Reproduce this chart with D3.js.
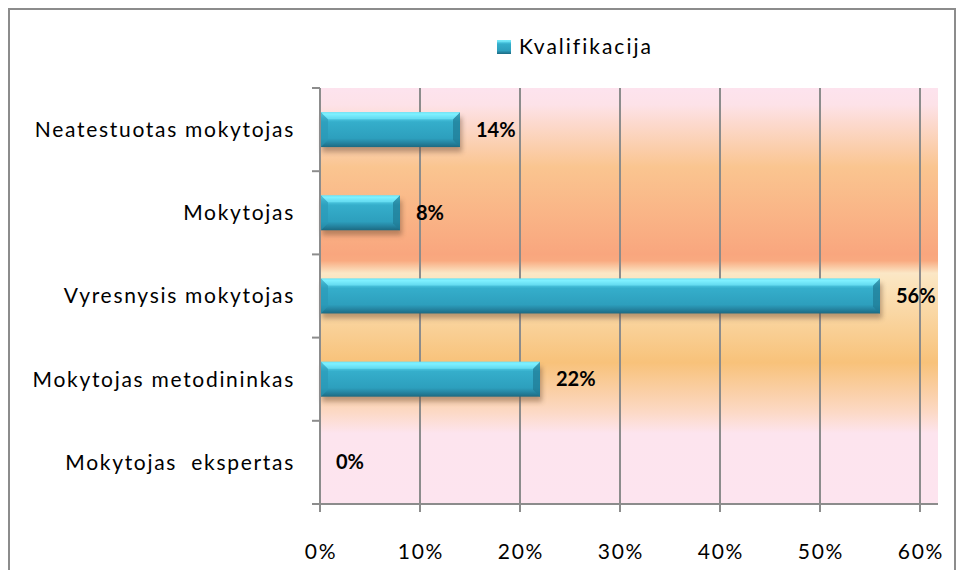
<!DOCTYPE html>
<html><head><meta charset="utf-8">
<script src="https://cdn.jsdelivr.net/npm/d3@7"></script>
<style>
html,body{margin:0;padding:0;background:#fff;}
svg{display:block;}
text{font-family:Lato,"Open Sans",sans-serif;}
</style></head><body>
<svg id="c" width="964" height="570"></svg>
<script>
const categories = ["Neatestuotas mokytojas","Mokytojas","Vyresnysis mokytojas","Mokytojas metodininkas","Mokytojas  ekspertas"];
const values = [14, 8, 56, 22, 0];
const xTicks = [0,10,20,30,40,50,60];
const seriesName = "Kvalifikacija";

const svg = d3.select("#c");
const L = 320, T = 88, B = 504, R = 938;
const x = d3.scaleLinear().domain([0,60]).range([L,920]);
const y = d3.scaleBand().domain(categories).range([T,B]).paddingInner(0.58).paddingOuter(0.29);

const defs = svg.append("defs");
const bg = defs.append("linearGradient").attr("id","bg").attr("x1",0).attr("y1",0).attr("x2",0).attr("y2",1);
[[0,"#fde3ee"],[0.04,"#fde2e8"],[0.19,"#fac590"],[0.40,"#f9a67e"],[0.415,"#f9aa80"],[0.445,"#fbe7c6"],[0.46,"#fbe5c0"],[0.66,"#f8c27a"],[0.78,"#fcd9c6"],[0.83,"#fde4ee"],[1,"#fde4ef"]]
  .forEach(([o,c])=>bg.append("stop").attr("offset",o).attr("stop-color",c));
const bar = defs.append("linearGradient").attr("id","bar").attr("x1",0).attr("y1",0).attr("x2",0).attr("y2",1);
[[0,"#5fd9ee"],[0.06,"#82f3ff"],[0.16,"#52cde6"],[0.28,"#35aecb"],[0.75,"#2d9fbd"],[0.86,"#2688a5"],[1,"#1c6a82"]]
  .forEach(([o,c])=>bar.append("stop").attr("offset",o).attr("stop-color",c));
const sh = defs.append("filter").attr("id","sh").attr("x","-10%").attr("y","-30%").attr("width","120%").attr("height","180%");
sh.append("feGaussianBlur").attr("stdDeviation",2.5);

// outer frame
svg.append("rect").attr("x",9).attr("y",9).attr("width",946).attr("height",600)
  .attr("fill","#fff").attr("stroke","#8c8c8c").attr("stroke-width",2);

// plot background
svg.append("rect").attr("x",L).attr("y",T).attr("width",R-L).attr("height",B-T).attr("fill","url(#bg)");

// gridlines
svg.append("g").selectAll("line").data(xTicks).join("line")
  .attr("x1",d=>x(d)).attr("x2",d=>x(d)).attr("y1",T).attr("y2",B+8)
  .attr("stroke","#8c8c8c").attr("stroke-width",2);

// bars
const bars = svg.append("g").selectAll("g").data(categories.map((c,i)=>({c,v:values[i]}))).join("g")
  .filter(d=>d.v>0);
bars.append("rect").attr("x",x(0)+2).attr("y",d=>y(d.c)+5).attr("width",d=>x(d.v)-x(0)).attr("height",y.bandwidth())
  .attr("fill","#6b4a30").attr("opacity",0.45).attr("filter","url(#sh)");
bars.append("rect").attr("x",x(0)+1).attr("y",d=>y(d.c)).attr("width",d=>x(d.v)-x(0)-1).attr("height",y.bandwidth())
  .attr("fill","url(#bar)");
// bevel ends
bars.append("path").attr("d",d=>{const x0=x(0)+1,y0=y(d.c),h=y.bandwidth(),b=7;
  return `M${x0},${y0}L${x0+b},${y0+b}L${x0+b},${y0+h-b}L${x0},${y0+h}Z`;}).attr("fill","#2a98b6").attr("opacity",0.6);
bars.append("path").attr("d",d=>{const x1=x(d.v),y0=y(d.c),h=y.bandwidth(),b=7;
  return `M${x1},${y0}L${x1-b},${y0+b}L${x1-b},${y0+h-b}L${x1},${y0+h}Z`;}).attr("fill","#1f7a94").attr("opacity",0.7);
bars.append("path").attr("d",d=>{const x0=x(0)+1,x1=x(d.v),y0=y(d.c),b=7;
  return `M${x0},${y0}L${x1},${y0}L${x1-b},${y0+b}L${x0+b},${y0+b}Z`;}).attr("fill","#7cefff").attr("opacity",0.55);

// y axis
svg.append("line").attr("x1",L).attr("x2",L).attr("y1",T).attr("y2",B).attr("stroke","#8c8c8c").attr("stroke-width",2);
const bounds = d3.range(categories.length+1).map(i=>T+(B-T)*i/categories.length);
svg.append("g").selectAll("line").data(bounds).join("line")
  .attr("x1",L-8).attr("x2",L).attr("y1",d=>d).attr("y2",d=>d).attr("stroke","#8c8c8c").attr("stroke-width",2);
// x axis
svg.append("line").attr("x1",L-8).attr("x2",R).attr("y1",B).attr("y2",B).attr("stroke","#8c8c8c").attr("stroke-width",2);

// category labels
svg.append("g").selectAll("text").data(categories).join("text")
  .attr("x",295).attr("y",d=>y(d)+y.bandwidth()/2).attr("dy","0.35em").attr("text-anchor","end")
  .attr("font-size",21).attr("letter-spacing","1.7px").attr("fill","#000").style("white-space","pre").attr("xml:space","preserve").text(d=>d);

// x tick labels
svg.append("g").selectAll("text").data(xTicks).join("text")
  .attr("x",d=>x(d)+1).attr("y",552).attr("dy","0.35em").attr("text-anchor","middle")
  .attr("font-size",21).attr("letter-spacing","1.7px").attr("fill","#000").text(d=>d+"%");

// value labels
svg.append("g").selectAll("text").data(categories.map((c,i)=>({c,v:values[i]}))).join("text")
  .attr("x",d=>x(d.v)+16).attr("y",d=>y(d.c)+y.bandwidth()/2).attr("dy","0.35em")
  .attr("font-size",20).attr("font-weight","bold").attr("fill","#000").text(d=>d.v+"%");

// legend
const lg = svg.append("g");
lg.append("rect").attr("x",497).attr("y",40).attr("width",14).attr("height",14).attr("fill","url(#bar)");
lg.append("text").attr("x",519).attr("y",47).attr("dy","0.35em").attr("font-size",21).attr("letter-spacing","2px").attr("fill","#000").text(seriesName);
</script>
</body></html>
